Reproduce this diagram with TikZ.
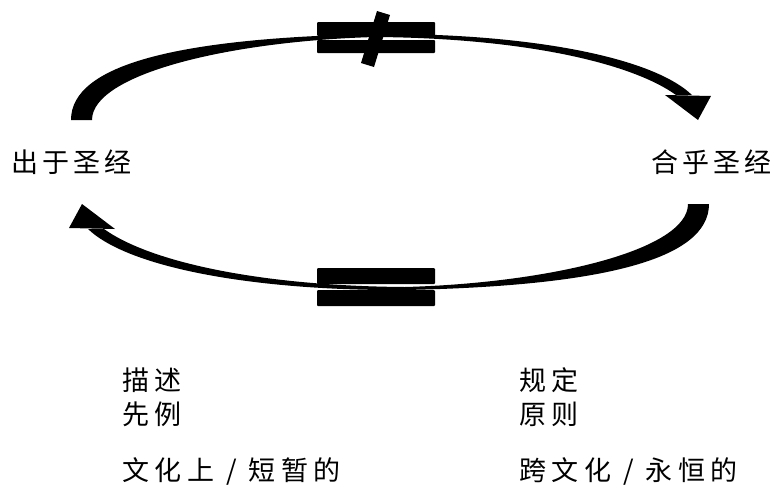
\documentclass[tikz,border=0pt]{standalone}
\usepackage{fontspec}
\newfontfamily\cjk[LetterSpace=15]{Noto Sans CJK SC}
\newfontfamily\cjkb[LetterSpace=21]{Noto Sans CJK SC}
\begin{document}
\begin{tikzpicture}[x=1pt,y=-1pt,
  ink/.style={fill=black,draw=none},
  bar/.style={fill=black,rounded corners=1pt},
  lbl/.style={anchor=base west,inner sep=0pt,font=\cjk\fontsize{27}{34}\selectfont},
  blk/.style={anchor=base west,inner sep=0pt,align=left,font=\cjkb\fontsize{27}{34}\selectfont}]
\useasboundingbox (0,0) rectangle (774,488);
% top swoosh
\def\swoosh{%
  \fill (71,120) .. controls (71,64) and (180,38) .. (375,34)
        .. controls (520,33) and (650,55) .. (692,95)
        -- (676,95) .. controls (630,62) and (520,38) .. (375,37)
        .. controls (230,41) and (92,74) .. (92,120) -- cycle;
  \fill (665,95) -- (711,96) -- (698,120) -- cycle;}
\swoosh
\begin{scope}[rotate around={180:(390,162)}]
\swoosh
\end{scope}
% not-equal sign (top)
\fill[bar] (317,22) rectangle (435,36);
\fill[bar] (317,40) rectangle (435,53);
\fill[ink] (377,11) -- (390,15) -- (374,67) -- (361,63) -- cycle;
% equal sign (bottom)
\fill[bar] (317,268) rectangle (435,284);
\fill[bar] (317,290) rectangle (435,306);
% labels
\node[lbl] (src) at (11,172) {出于圣经};
\node[lbl] (conf) at (651,172) {合乎圣经};
\node[blk] (desc) at (122,424) {描述\\先例};
\node[blk] (pres) at (519,424) {规定\\原则};
\node[blk] (cult) at (122,480) {文化上 / 短暂的};
\node[blk] (trans) at (519,480) {跨文化 / 永恒的};
\end{tikzpicture}
\end{document}
